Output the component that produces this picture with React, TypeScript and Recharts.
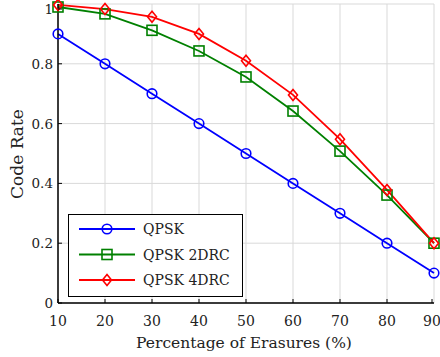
import React from 'react';
import {
  LineChart,
  Line,
  XAxis,
  YAxis,
  CartesianGrid,
} from 'recharts';

// erasure percentage on the x axis
const erasures = [10, 20, 30, 40, 50, 60, 70, 80, 90];
const qpsk = [0.9, 0.8, 0.7, 0.6, 0.5, 0.4, 0.3, 0.2, 0.1];
const qpsk2drc = [0.99, 0.967, 0.912, 0.843, 0.756, 0.642, 0.508, 0.361, 0.2];
const qpsk4drc = [0.997, 0.983, 0.957, 0.9, 0.81, 0.696, 0.548, 0.378, 0.2];

const xTicks = [10, 20, 30, 40, 50, 60, 70, 80, 90];
const yTicks = [0, 0.2, 0.4, 0.6, 0.8, 1];

const data = erasures.map((e, i) => ({
  erasure: e,
  qpsk: qpsk[i],
  drc2: qpsk2drc[i],
  drc4: qpsk4drc[i],
}));

const FONT = "'DejaVu Serif', serif";
const TEXT = '#222';

type Shape = 'circle' | 'square' | 'diamond';

function Marker({ cx, cy, shape, color }: { cx: number; cy: number; shape: Shape; color: string }) {
  if (shape === 'circle') {
    return <circle cx={cx} cy={cy} r={4.8} fill="none" stroke={color} strokeWidth={1.6} />;
  }
  if (shape === 'square') {
    return <rect x={cx - 5} y={cy - 5} width={10} height={10} fill="none" stroke={color} strokeWidth={1.6} />;
  }
  return (
    <path
      d={`M${cx},${cy - 5.5} L${cx + 4.5},${cy} L${cx},${cy + 5.5} L${cx - 4.5},${cy} Z`}
      fill="none"
      stroke={color}
      strokeWidth={1.6}
    />
  );
}

const series: { key: string; name: string; color: string; shape: Shape }[] = [
  { key: 'qpsk', name: 'QPSK', color: '#0000ff', shape: 'circle' },
  { key: 'drc2', name: 'QPSK 2DRC', color: '#008000', shape: 'square' },
  { key: 'drc4', name: 'QPSK 4DRC', color: '#ff0000', shape: 'diamond' },
];

// tick labels plus a short inward tick mark
const XTick = (p: any) => (
  <g>
    <line x1={p.x} x2={p.x} y1={303} y2={299} stroke="#000" strokeWidth={1} />
    <text x={p.x} y={326} textAnchor="middle" style={{ fontFamily: FONT }} fontSize={14} fill={TEXT}>
      {p.payload.value}
    </text>
  </g>
);

const YTick = (p: any) => (
  <g>
    <line x1={58} x2={62} y1={p.y} y2={p.y} stroke="#000" strokeWidth={1} />
    <text x={53} y={p.y + 5} textAnchor="end" style={{ fontFamily: FONT }} fontSize={13.5} fill={TEXT}>
      {p.payload.value}
    </text>
  </g>
);

function LegendBox() {
  return (
    <div
      style={{
        position: 'absolute',
        left: 68,
        top: 214,
        width: 175,
        height: 83,
        boxSizing: 'border-box',
        border: '1.5px solid #000',
        background: '#fff',
      }}
    >
      <svg width={172} height={80} style={{ display: 'block' }}>
        {series.map((s, i) => {
          const y = 14 + i * 25.5;
          return (
            <g key={s.key}>
              <line x1={10} x2={66} y1={y} y2={y} stroke={s.color} strokeWidth={1.8} />
              <Marker cx={38} cy={y} shape={s.shape} color={s.color} />
              <text x={74} y={y + 5} style={{ fontFamily: FONT }} fontSize={14} fill={TEXT}>
                {s.name}
              </text>
            </g>
          );
        })}
      </svg>
    </div>
  );
}

export default function App() {
  return (
    <div style={{ position: 'absolute', left: 0, top: 0, width: 440, height: 357, background: '#fff' }}>
      <LineChart width={440} height={357} data={data} margin={{ top: 4, right: 6, left: 8, bottom: 24 }}>
        <CartesianGrid stroke="#d9d9d9" strokeWidth={1} />
        <XAxis
          dataKey="erasure"
          type="number"
          domain={[10, 90]}
          ticks={xTicks}
          height={30}
          tickLine={false}
          axisLine={{ stroke: '#000', strokeWidth: 1.5 }}
          tick={<XTick />}
        />
        <XAxis xAxisId="top" orientation="top" dataKey="erasure" type="number" domain={[10, 90]} height={0} tick={false} tickLine={false} axisLine={{ stroke: '#000', strokeWidth: 1.5 }} />
        <YAxis
          type="number"
          domain={[0, 1]}
          ticks={yTicks}
          width={50}
          tickLine={false}
          axisLine={{ stroke: '#000', strokeWidth: 1.5 }}
          tick={<YTick />}
        />
        <YAxis yAxisId="right" orientation="right" domain={[0, 1]} width={0} tick={false} tickLine={false} axisLine={{ stroke: '#000', strokeWidth: 1.5 }} />
        {series.map((s) => (
          <Line
            key={s.key}
            dataKey={s.key}
            name={s.name}
            type="linear"
            stroke={s.color}
            strokeWidth={1.8}
            isAnimationActive={false}
            dot={(p: any) => <Marker key={`${s.key}-${p.index}`} cx={p.cx} cy={p.cy} shape={s.shape} color={s.color} />}
          />
        ))}
        <text x={244} y={348} textAnchor="middle" style={{ fontFamily: FONT }} fontSize={15.5} fill={TEXT}>
          Percentage of Erasures (%)
        </text>
        <text x={23} y={154} textAnchor="middle" style={{ fontFamily: FONT }} fontSize={17} fill={TEXT} transform="rotate(-90 23 154)">
          Code Rate
        </text>
      </LineChart>
      <LegendBox />
    </div>
  );
}
